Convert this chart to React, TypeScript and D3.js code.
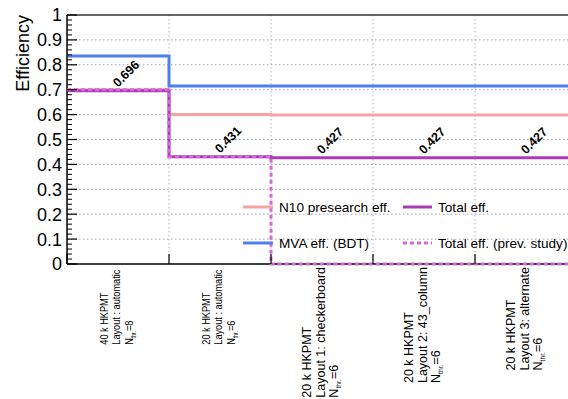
import React from "react";
import * as d3 from "d3";

const categoryLine1 = ["40 k HKPMT", "20 k HKPMT", "20 k HKPMT", "20 k HKPMT", "20 k HKPMT"];
const categoryLayout = [
  "Layout  : automatic",
  "Layout  : automatic",
  "Layout 1: checkerboard",
  "Layout 2: 43_column",
  "Layout 3: alternate",
];
const nThr = ["8", "6", "6", "6", "6"];

const presearchEff = [0.7, 0.6, 0.598, 0.598, 0.598];
const mvaEff = [0.835, 0.715, 0.715, 0.715, 0.715];
const totalEff = [0.696, 0.431, 0.427, 0.427, 0.427];
const totalPrevEff = [0.7, 0.431, 0, 0, 0];
const totalLabels = ["0.696", "0.431", "0.427", "0.427", "0.427"];

const yMajorTicks = [0, 0.1, 0.2, 0.3, 0.4, 0.5, 0.6, 0.7, 0.8, 0.9, 1];
const yTickLabels = ["0", "0.1", "0.2", "0.3", "0.4", "0.5", "0.6", "0.7", "0.8", "0.9", "1"];

const W = 568;
const H = 399;
const L = 67;
const R = 577;
const T = 15;
const B = 264;

const PINK = "#f7a3a3";
const BLUE = "#4d80ee";
const PURPLE = "#a93cb6";
const DASH = "#d46ad9";
const FONT = "'Liberation Sans', Arial, Helvetica, sans-serif";
const LABEL_SIZES = [11.5, 11.5, 12.5, 12.5, 12.5];
const LABEL_STRETCH = [0.8, 0.8, 1, 1, 1];

function measure(text: string, font: string): number {
  const c = document.createElement("canvas");
  const ctx = c.getContext("2d");
  if (!ctx) return text.length * 6;
  ctx.font = font;
  return ctx.measureText(text).width;
}

export default function App() {
  const n = presearchEff.length;
  const x = d3.scaleLinear().domain([0, n]).range([L, R]);
  const y = d3.scaleLinear().domain([0, 1]).range([B, T]);

  const step = d3
    .line<[number, number]>()
    .x((d) => x(d[0]))
    .y((d) => y(d[1]))
    .curve(d3.curveStepAfter);

  const pts = (vals: number[]): [number, number][] => [
    ...vals.map((v, i) => [i, v] as [number, number]),
    [n, vals[vals.length - 1]],
  ];

  const minorTicks = d3.range(0, 1.0001, 0.02).filter((v) => Math.abs(Math.round(v * 10) - v * 10) > 1e-6);

  return (
    <svg
      width={W}
      height={H}
      style={{ position: "absolute", left: 0, top: 0, background: "#fff" }}
      fontFamily={FONT}
    >
      <rect x={0} y={0} width={W} height={H} fill="#fff" />
      {/* grid */}
      {yMajorTicks.slice(1, -1).map((t) => (
        <line key={"gy" + t} x1={L} x2={R} y1={y(t)} y2={y(t)} stroke="#9aa0b4" strokeWidth={1} strokeDasharray="1.5,2.5" />
      ))}
      {d3.range(1, n).map((i) => (
        <line key={"gx" + i} x1={x(i)} x2={x(i)} y1={T} y2={B} stroke="#b0b4c4" strokeWidth={1} strokeDasharray="1.5,2.5" />
      ))}

      {/* series */}
      <path d={step(pts(presearchEff)) || ""} fill="none" stroke={PINK} strokeWidth={3} />
      <path d={step(pts(mvaEff)) || ""} fill="none" stroke={BLUE} strokeWidth={3} />
      <path d={step(pts(totalEff)) || ""} fill="none" stroke={PURPLE} strokeWidth={3} />

      {/* frame */}
      <line x1={L} x2={R} y1={T} y2={T} stroke="#333" strokeWidth={1.5} />
      <line x1={L} x2={L} y1={T} y2={B} stroke="#000" strokeWidth={1.5} />
      <line x1={L} x2={R} y1={B} y2={B} stroke="#000" strokeWidth={1.5} />

      <path d={step(pts(totalPrevEff)) || ""} fill="none" stroke={DASH} strokeWidth={3} strokeDasharray="4,3" />

      {/* y ticks */}
      {yMajorTicks.map((t) => (
        <line key={"yt" + t} x1={L} x2={L + 10} y1={y(t)} y2={y(t)} stroke="#000" strokeWidth={1.2} />
      ))}
      {minorTicks.map((t) => (
        <line key={"ym" + t} x1={L} x2={L + 5} y1={y(t)} y2={y(t)} stroke="#000" strokeWidth={1} />
      ))}
      {yMajorTicks.map((t, i) => (
        <text key={"yl" + t} x={L - 5} y={y(t)} dy="0.36em" textAnchor="end" fontSize={18} fill="#000">
          {yTickLabels[i]}
        </text>
      ))}
      <text transform={`translate(29,${T}) rotate(-90)`} textAnchor="end" fontSize={18} fill="#000">
        Efficiency
      </text>

      {/* x ticks */}
      {d3.range(0, n + 1).map((i) => (
        <line key={"xt" + i} x1={x(i)} x2={x(i)} y1={B} y2={B - 10} stroke="#000" strokeWidth={1.2} />
      ))}

      {/* value labels */}
      {totalEff.map((v, i) => (
        <text
          key={"vl" + i}
          transform={`translate(${x(i + 0.5)},${y(v) - 3}) rotate(-45)`}
          textAnchor="start"
          fontSize={12.5}
          fontWeight="bold"
          fill="#000"
        >
          {totalLabels[i]}
        </text>
      ))}

      {/* x category labels */}
      {categoryLine1.map((c, i) => {
        const fs = LABEL_SIZES[i];
        const sx = LABEL_STRETCH[i];
        const lines = [c, categoryLayout[i], "N=" + nThr[i]];
        const w = Math.max(...lines.map((s) => measure(s, `${fs}px ${FONT}`))) * sx;
        const cx = x(i + 0.5);
        const start = B + 3 + w;
        const gap = fs * 1.08;
        const b0 = cx - gap + fs * 0.3 - 1;
        const tf = (bx: number) => `translate(${bx},${start}) rotate(-90) scale(${sx},1)`;
        return (
          <g key={"xl" + i} fontSize={fs} fill="#000">
            <text transform={tf(b0)}>{c}</text>
            <text transform={tf(b0 + gap)}>{categoryLayout[i]}</text>
            <text transform={tf(b0 + 2 * gap)}>
              N<tspan fontSize={fs * 0.55} dy={fs * 0.25}>thr.</tspan>
              <tspan dy={-fs * 0.25}>={nThr[i]}</tspan>
            </text>
          </g>
        );
      })}

      {/* legend */}
      <g fontSize={13.6} fill="#000">
        <line x1={243} x2={273} y1={207} y2={207} stroke={PINK} strokeWidth={3} />
        <text x={279} y={207} dy="0.36em">N10 presearch eff.</text>
        <line x1={403} x2={432} y1={207} y2={207} stroke={PURPLE} strokeWidth={3} />
        <text x={438} y={207} dy="0.36em">Total eff.</text>
        <line x1={243} x2={273} y1={243} y2={243} stroke={BLUE} strokeWidth={3} />
        <text x={279} y={243} dy="0.36em">MVA eff. (BDT)</text>
        <line x1={403} x2={432} y1={243} y2={243} stroke={DASH} strokeWidth={3} strokeDasharray="4,3" />
        <text x={438} y={243} dy="0.36em">Total eff. (prev. study)</text>
      </g>
    </svg>
  );
}
